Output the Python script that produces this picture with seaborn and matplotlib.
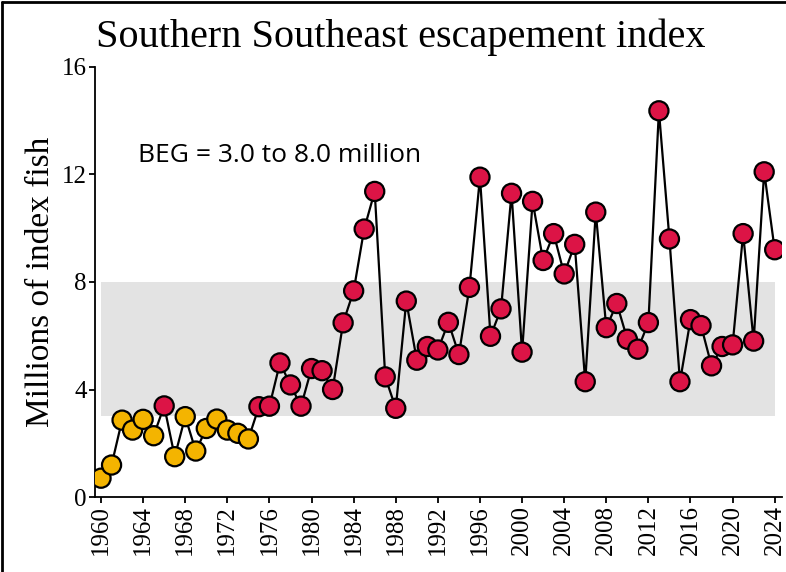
import matplotlib
matplotlib.use("Agg")
import matplotlib.pyplot as plt
import numpy as np
import pandas as pd
import seaborn as sns

# escapement index, millions of fish
years = list(range(1960, 2025))
index_fish = [0.7, 1.19, 2.86, 2.49, 2.89, 2.28, 3.39, 1.5, 2.99, 1.71,
              2.55, 2.9, 2.49, 2.37, 2.16, 3.36, 3.38, 4.99, 4.17, 3.38,
              4.78, 4.7, 4.0, 6.48, 7.67, 9.97, 11.37, 4.47, 3.3, 7.29,
              5.09, 5.6, 5.47, 6.5, 5.3, 7.8, 11.9, 5.98, 7.0, 11.3,
              5.39, 11.0, 8.8, 9.8, 8.3, 9.4, 4.29, 10.6, 6.3, 7.2,
              5.87, 5.5, 6.49, 14.37, 9.6, 4.29, 6.6, 6.38, 4.88, 5.6,
              5.66, 9.8, 5.8, 12.1, 9.2]
# marker group (older years in yellow, 1966 and 1975 onward in red)
group = ["early" if (y < 1975 and y != 1966) else "late" for y in years]

beg_low, beg_high = 3.0, 8.0
palette = {"early": "#F4B400", "late": "#DC1446"}

df = pd.DataFrame({"year": years, "fish": index_fish, "group": group})

sns.set_style("ticks", {"axes.edgecolor": "black", "xtick.color": "black",
                        "ytick.color": "black", "text.color": "black",
                        "axes.labelcolor": "black"})
plt.rcParams["font.family"] = ["Liberation Serif", "DejaVu Serif"]

fig = plt.figure(figsize=(7.86, 5.72), dpi=100)
ax = fig.add_axes([0.1209, 0.1311, 0.8741, 0.7518])

# BEG range
ax.fill_between([years[0], years[-1]], beg_low, beg_high, color="#E3E3E3", lw=0, zorder=0)

sns.lineplot(data=df, x="year", y="fish", color="black", lw=1.6, ax=ax, zorder=2)
sns.scatterplot(data=df, x="year", y="fish", hue="group", palette=palette,
                s=190, edgecolor="black", linewidth=1.6, legend=False, ax=ax, zorder=3)

ax.set_xlim(1959.43, 2024.7)
ax.set_ylim(0, 16)
ax.set_xticks(range(1960, 2025, 4))
ax.set_yticks([0, 4, 8, 12, 16])
ax.tick_params(axis="x", labelrotation=90)
ax.tick_params(labelsize=18, length=4, width=1.3, pad=2, colors="black")
for s in ["left", "bottom"]:
    ax.spines[s].set_linewidth(1.3)
sns.despine(ax=ax)
ax.set_xlabel("")
ax.set_ylabel("Millions of index fish", fontsize=24, labelpad=4)

ax.text(1963.5, 12.7, "BEG = 3.0 to 8.0 million", fontsize=19,
        family=["Open Sans", "DejaVu Sans"], va="center", ha="left")

fig.text(0.51, 0.935, "Southern Southeast escapement index", fontsize=29,
         ha="center", va="center")

# outer frame lines (left and top)
fig.add_artist(plt.Line2D([0.003, 0.003], [0, 0.997], color="black", lw=2, transform=fig.transFigure))
fig.add_artist(plt.Line2D([0.003, 1], [0.997, 0.997], color="black", lw=2, transform=fig.transFigure))

fig.savefig("out.png", dpi=100)
